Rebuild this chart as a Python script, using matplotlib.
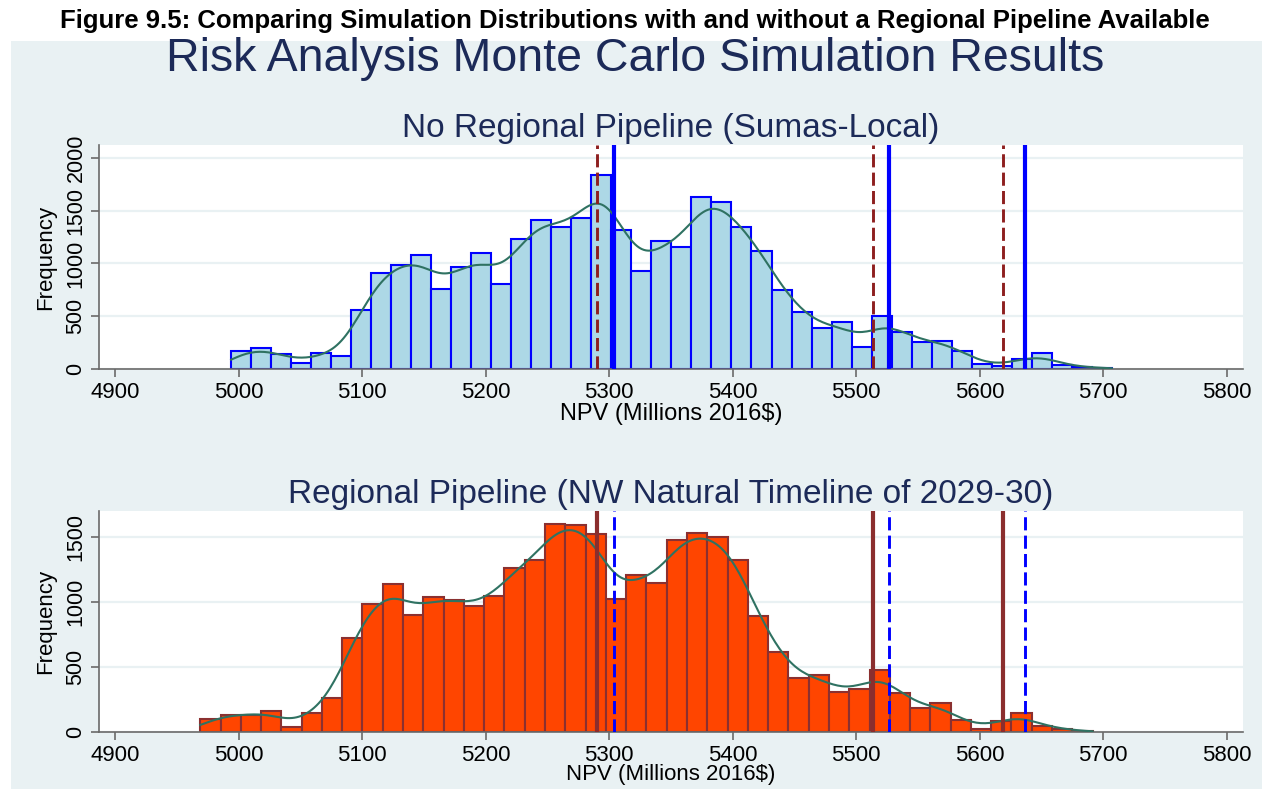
import numpy as np
import matplotlib.pyplot as plt
from matplotlib.patches import Rectangle
from math import erf

# histogram counts (44 bins each)
local_counts = [173, 195, 141, 53, 154, 123, 563, 912, 984, 1078, 758, 965, 1094, 808,
                1233, 1415, 1349, 1427, 1840, 1318, 927, 1216, 1154, 1633, 1577, 1348,
                1122, 752, 542, 386, 448, 210, 502, 348, 260, 263, 172, 47, 31, 97, 147,
                38, 19, 12]
regional_counts = [104, 134, 134, 164, 40, 149, 260, 725, 987, 1144, 899, 1038, 1018, 972,
                   1050, 1265, 1323, 1601, 1596, 1525, 1024, 1212, 1151, 1480, 1530, 1502,
                   1326, 891, 619, 417, 437, 311, 331, 482, 303, 184, 222, 91, 28, 88, 146,
                   45, 25, 10]
# NPV range covered by the bins
local_range = (4994, 5707)
regional_range = (4969, 5691.5)
# vertical marker lines (NPV values)
local_marks = [5304, 5527, 5637]
regional_marks = [5290, 5514, 5619]
xticks = [4900, 5000, 5100, 5200, 5300, 5400, 5500, 5600, 5700, 5800]

plt.rcParams['font.family'] = ['Liberation Sans', 'DejaVu Sans']

navy = '#1c2a58'
grey_bg = '#e9f1f3'
spine_c = '#6a6a6a'


def smooth_curve(edges, counts, h=14.0):
    # gaussian smoothing of the histogram, on the frequency scale
    xs = np.linspace(edges[0], edges[-1], 400)
    ys = np.zeros_like(xs)
    s = h * np.sqrt(2)
    for a, b, c in zip(edges[:-1], edges[1:], counts):
        ys += c * np.array([0.5 * (erf((x - a) / s) - erf((x - b) / s)) for x in xs])
    return xs, ys


def panel(ax, counts, rng, face, edge, ymax, yticks, title, own_marks, own_c, other_marks, other_c,
          xfont, xpad):
    edges = np.linspace(rng[0], rng[1], len(counts) + 1)
    ax.set_facecolor('white')
    for y in yticks:
        ax.axhline(y, color=grey_bg, lw=1.6, zorder=0)
    ax.bar(edges[:-1], counts, width=np.diff(edges), align='edge', color=face,
           edgecolor=edge, linewidth=1.5, zorder=2)
    xs, ys = smooth_curve(edges, counts)
    ax.plot(xs, ys, color='#2f7262', lw=1.5, zorder=3)
    for v in other_marks:
        ax.axvline(v, color=other_c, lw=2.1, linestyle=(0, (4.5, 1.8)), zorder=4)
    for v in own_marks:
        ax.axvline(v, color=own_c, lw=3.0, zorder=5)
    ax.set_xlim(4887, 5813)
    ax.set_ylim(0, ymax)
    ax.set_xticks(xticks)
    ax.set_yticks(yticks)
    ax.set_yticklabels([str(t) for t in yticks], rotation=90, va='center')
    ax.tick_params(axis='both', colors=spine_c, labelcolor='black', labelsize=16,
                   length=6, width=1.2)
    ax.tick_params(axis='y', pad=3, labelsize=15.5)
    ax.tick_params(axis='x', pad=3)
    for s in ['top', 'right']:
        ax.spines[s].set_visible(False)
    for s in ['left', 'bottom']:
        ax.spines[s].set_color(spine_c)
        ax.spines[s].set_linewidth(1.2)
    ax.set_title(title, fontsize=24, color=navy, pad=6)
    ax.set_xlabel('NPV (Millions 2016$)', fontsize=xfont, labelpad=xpad)
    ax.set_ylabel('Frequency', fontsize=16, labelpad=7)


fig = plt.figure(figsize=(12.62, 7.89), dpi=100)
fig.patch.set_facecolor('white')
fig.add_artist(Rectangle((11 / 1262, 0), 1 - 11 / 1262, 1 - 41 / 789, transform=fig.transFigure,
                         facecolor=grey_bg, edgecolor='none', zorder=0))

ax1 = fig.add_axes([0.0784, 0.5323, 0.9063, 0.2839])
ax2 = fig.add_axes([0.0784, 0.0720, 0.9063, 0.2800])

panel(ax1, local_counts, local_range, '#add8e6', '#0000ff', 2121, [0, 500, 1000, 1500, 2000],
      'No Regional Pipeline (Sumas-Local)', local_marks, '#0000ff', regional_marks, '#8e1f1f',
      17, 0)
panel(ax2, regional_counts, regional_range, '#ff4500', '#8b3030', 1700, [0, 500, 1000, 1500],
      'Regional Pipeline (NW Natural Timeline of 2029-30)', regional_marks, '#8b2e2e',
      local_marks, '#0000ff', 16, -1)

fig.text(0.503, 1 - 59 / 789, 'Risk Analysis Monte Carlo Simulation Results', ha='center',
         va='center', fontsize=33.5, color=navy)
fig.text(0.503, 1 - 21 / 789,
         'Figure 9.5: Comparing Simulation Distributions with and without a Regional Pipeline Available',
         ha='center', va='center', fontsize=18.5, fontweight='bold',
         family=['Liberation Sans Narrow', 'Liberation Sans', 'DejaVu Sans'])

fig.savefig('out.png', dpi=100)
